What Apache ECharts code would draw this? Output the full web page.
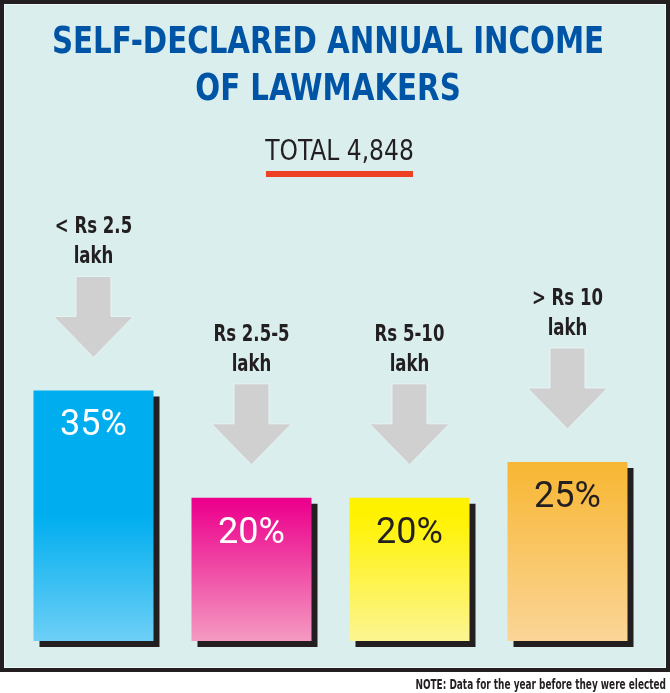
<!DOCTYPE html>
<html><head><meta charset="utf-8">
<script src="https://cdn.jsdelivr.net/npm/echarts@6/dist/echarts.min.js"></script>
<style>html,body{margin:0;padding:0;background:#fff}#c{width:670px;height:693px}</style>
</head><body><div id="c"></div>
<script>
// ---- data ----
const categories = ['< Rs 2.5\nlakh', 'Rs 2.5-5\nlakh', 'Rs 5-10\nlakh', '> Rs 10\nlakh'];
const shares = [35, 20, 20, 25];
const shareLabels = ['35%', '20%', '20%', '25%'];
const titleText = 'SELF-DECLARED ANNUAL INCOME\nOF LAWMAKERS';
const totalText = 'TOTAL 4,848';
const noteText = 'NOTE: Data for the year before they were elected';

// ---- styles ----
const barTopColors = ['#00aeef', '#ec008c', '#fff200', '#f8b837'];
const barBottomColors = ['#6dcff6', '#f49ac1', '#fcf592', '#fbd598'];
const barHold = [0.5, 0.02, 0.12, 0.05];
const pctColors = ['#ffffff', '#ffffff', '#231f20', '#231f20'];
const NARROW = '"Liberation Sans Narrow", "DejaVu Sans Condensed", sans-serif';

const chart = echarts.init(document.getElementById('c'), null, {renderer: 'canvas'});

const barData = shares.map((v, i) => ({
  value: v,
  itemStyle: {
    color: new echarts.graphic.LinearGradient(0, 0, 0, 1, [
      {offset: 0, color: barTopColors[i]},
      {offset: barHold[i], color: barTopColors[i]},
      {offset: 1, color: barBottomColors[i]}
    ])
  },
  label: {color: pctColors[i], formatter: shareLabels[i]}
}));

const option = {
  animation: false,
  graphic: [
    {type: 'rect', z: -10, shape: {x: 2, y: 2, width: 666, height: 668},
     style: {fill: '#d9eeed', stroke: '#231f20', lineWidth: 4}},
    {type: 'rect', z: -9, shape: {x: 4.5, y: 4.5, width: 661, height: 663},
     style: {fill: 'none', stroke: '#eef8f8', lineWidth: 1}},
    {type: 'text', x: 328, y: 20, z: 10, scaleX: 0.88,
     style: {text: titleText, fill: '#0054a6', font: 'bold 37px ' + NARROW,
             textAlign: 'center', textVerticalAlign: 'top', lineHeight: 47}},
    {type: 'text', x: 339.5, y: 153, z: 10, scaleX: 0.93,
     style: {text: totalText, fill: '#231f20', font: '28px ' + NARROW,
             textAlign: 'center', textVerticalAlign: 'middle'}},
    {type: 'rect', z: 10, shape: {x: 266, y: 171, width: 147, height: 6},
     style: {fill: '#ee4023'}},
    {type: 'text', x: 666, y: 685, z: 10, scaleX: 0.71,
     style: {text: noteText, fill: '#231f20', font: 'bold 14px ' + NARROW,
             textAlign: 'right', textVerticalAlign: 'middle'}}
  ],
  grid: {left: 14.5, right: 23.5, top: 283, bottom: 52},
  xAxis: {type: 'category', data: categories, show: false},
  yAxis: {type: 'value', min: 0, max: 50, show: false},
  series: [
    {
      type: 'bar',
      barWidth: 120,
      data: barData,
      itemStyle: {shadowColor: '#231f20', shadowBlur: 0, shadowOffsetX: 6, shadowOffsetY: 6},
      label: {show: true, position: 'insideTop', distance: 18,
              fontFamily: 'Roboto, "Noto Sans", sans-serif', fontSize: 36, fontWeight: 'normal'},
      emphasis: {disabled: true}
    },
    {
      type: 'custom',
      data: shares.map((v, i) => [i, v]),
      encode: {x: 0, y: 1},
      silent: true,
      renderItem: function (params, api) {
        const i = api.value(0);
        const p = api.coord([i, api.value(1)]);
        const x = p[0], T = p[1];
        const lines = categories[i].split('\n');
        const txt = (s, y) => ({
          type: 'text', x: x, y: y, scaleX: 0.8,
          style: {text: s, fill: '#231f20', font: 'bold 23px ' + NARROW,
                  textAlign: 'center', textVerticalAlign: 'middle'}
        });
        return {
          type: 'group',
          children: [
            {type: 'polygon', shape: {points: [
              [x - 17.5, T - 114], [x + 17.5, T - 114], [x + 17.5, T - 74],
              [x + 40, T - 74], [x, T - 33], [x - 40, T - 74], [x - 17.5, T - 74]
            ]}, style: {fill: '#d0d0d0', stroke: '#e8f4f4', lineWidth: 1}},
            txt(lines[0], T - 163),
            txt(lines[1], T - 133)
          ]
        };
      }
    }
  ]
};
chart.setOption(option);
</script>
</body></html>
